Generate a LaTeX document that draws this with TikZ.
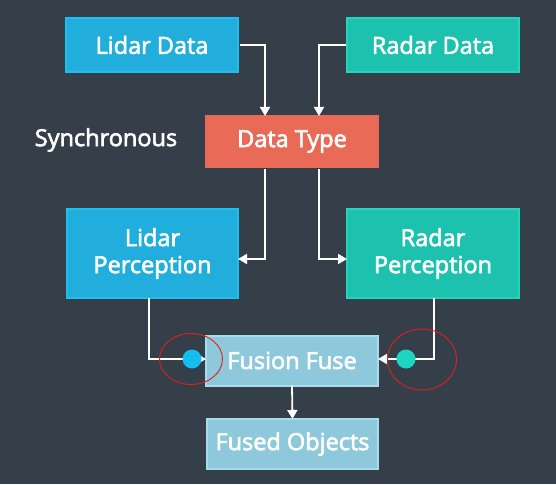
\documentclass[tikz,border=0pt]{standalone}
\usepackage{fontspec}
\setmainfont{Open Sans}[FakeBold=2.6]
\usetikzlibrary{arrows.meta,positioning}
\definecolor{bg}{HTML}{343F4A}
\definecolor{lidarfill}{HTML}{22AEDC}
\definecolor{lidarline}{HTML}{1DBFF0}
\definecolor{radarfill}{HTML}{1CC2AE}
\definecolor{radarline}{HTML}{24D4BF}
\definecolor{typefill}{HTML}{E96A57}
\definecolor{fusefill}{HTML}{8DC9DA}
\definecolor{fuseline}{HTML}{A6DCEB}
\definecolor{bluedot}{HTML}{14BFF0}
\definecolor{tealdot}{HTML}{1DD6BF}
\definecolor{ring}{HTML}{E0201A}
\tikzset{
  box/.style={rectangle, inner sep=0pt, outer sep=0pt, line width=2pt,
    text=white, font=\fontsize{23.5}{27}\selectfont, align=center},
  conn/.style={draw=white, line width=1.8pt, -{Triangle[length=9pt,width=10pt]}},
  dot/.style={circle, inner sep=0pt, minimum size=19pt},
}
\begin{document}
\begin{tikzpicture}[x=1pt,y=-1pt]
\fill[bg] (0,0) rectangle (556,484);
\useasboundingbox (0,0) rectangle (556,484);

\node[box, fill=lidarfill, draw=lidarline, minimum width=172, minimum height=54] (lidar) at (152,45) {Lidar Data};
\node[box, fill=radarfill, draw=radarline, minimum width=172, minimum height=54] (radar) at (433,45) {Radar Data};
\node[box, fill=typefill, draw=typefill, minimum width=172, minimum height=51] (dtype) at (292,141.5) {Data Type};
\node[text=white, font=\fontsize{23.5}{27}\selectfont, inner sep=0pt] (sync) at (106,140) {Synchronous};
\node[box, fill=lidarfill, draw=lidarline, minimum width=171, minimum height=89] (lp) at (152.5,253.5) {Lidar\\Perception};
\node[box, fill=radarfill, draw=radarline, minimum width=172, minimum height=89] (rp) at (433,253.5) {Radar\\Perception};
\node[box, fill=fusefill, draw=fuseline, minimum width=172, minimum height=50] (fuse) at (292,360.5) {Fusion Fuse};
\node[box, fill=fusefill, draw=fuseline, minimum width=171, minimum height=50] (fused) at (292.5,444) {Fused Objects};

\draw[conn, shorten <=1.5pt] (lidar.east) -| ([xshift=-27pt]dtype.north);
\draw[conn, shorten <=1.5pt] (radar.west) -| ([xshift=27pt]dtype.north);
\draw[conn, shorten <=2pt] ([xshift=-27pt]dtype.south) |- ([yshift=-5.5pt]lp.east);
\draw[conn, shorten <=2pt] ([xshift=27pt]dtype.south) |- ([yshift=-5.5pt]rp.west);
\draw[conn] ([xshift=-3.5pt]lp.south) |- ([yshift=1.5pt]fuse.west);
\draw[conn] ([xshift=1pt]rp.south) |- ([yshift=1.5pt]fuse.east);
\draw[conn] (fuse.south) -- (fused.north);

\node[dot, fill=bluedot] (ldot) at (192,359) {};
\node[dot, fill=tealdot] (rdot) at (406,359) {};

\draw[ring, line width=0.9pt] (ldot) ++(-1,0) ellipse [x radius=31.5, y radius=25.5];
\draw[ring, line width=0.9pt] (rdot) ++(16,0.5) ellipse [x radius=34.5, y radius=30.5];
\end{tikzpicture}
\end{document}
